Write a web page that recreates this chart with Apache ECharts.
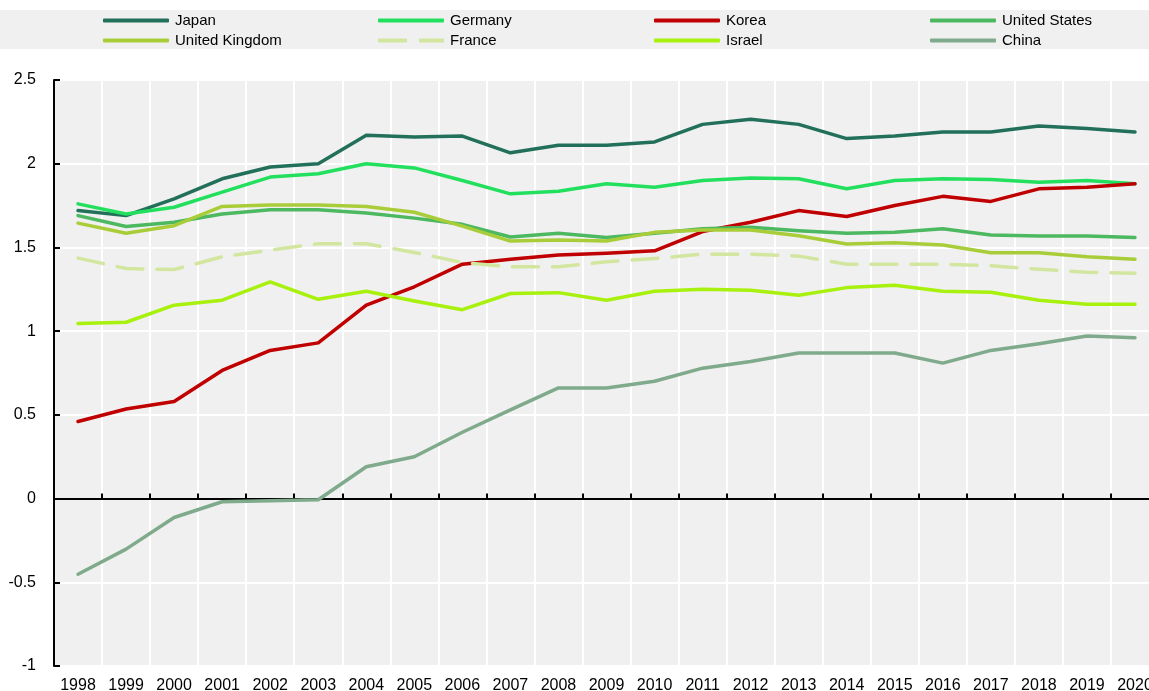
<!DOCTYPE html>
<html><head><meta charset="utf-8">
<script src="https://cdn.jsdelivr.net/npm/echarts@6/dist/echarts.min.js"></script>
<style>html,body{margin:0;padding:0;background:#fff;overflow:hidden}#c{width:1149px;height:691px}</style>
</head><body><div id="c"></div>
<script>
const years = ['1998','1999','2000','2001','2002','2003','2004','2005','2006','2007','2008','2009','2010','2011','2012','2013','2014','2015','2016','2017','2018','2019','2020'];
const yTicks = [-1,-0.5,0,0.5,1,1.5,2,2.5];
const japan = [1.72,1.69,1.79,1.91,1.98,2.00,2.17,2.16,2.165,2.065,2.11,2.11,2.13,2.235,2.265,2.235,2.15,2.165,2.19,2.19,2.225,2.21,2.19];
const germany = [1.76,1.70,1.74,1.83,1.92,1.94,2.00,1.975,1.90,1.82,1.835,1.88,1.86,1.90,1.915,1.91,1.85,1.90,1.91,1.905,1.89,1.90,1.88];
const korea = [0.46,0.535,0.58,0.765,0.885,0.93,1.155,1.265,1.40,1.43,1.455,1.465,1.48,1.595,1.65,1.72,1.685,1.75,1.805,1.775,1.85,1.86,1.88];
const unitedStates = [1.69,1.625,1.65,1.70,1.725,1.725,1.705,1.675,1.638,1.562,1.584,1.56,1.584,1.612,1.62,1.60,1.585,1.59,1.612,1.574,1.568,1.568,1.56];
const unitedKingdom = [1.645,1.585,1.63,1.745,1.753,1.753,1.745,1.71,1.627,1.538,1.544,1.538,1.59,1.604,1.604,1.57,1.52,1.528,1.514,1.468,1.468,1.445,1.43];
const france = [1.436,1.374,1.368,1.444,1.484,1.522,1.522,1.47,1.41,1.384,1.384,1.414,1.434,1.46,1.46,1.448,1.40,1.40,1.40,1.39,1.37,1.352,1.346];
const israel = [1.045,1.053,1.155,1.185,1.294,1.19,1.238,1.18,1.128,1.225,1.23,1.185,1.238,1.25,1.244,1.214,1.26,1.274,1.238,1.232,1.185,1.16,1.16];
const china = [-0.452,-0.302,-0.113,-0.019,-0.013,-0.007,0.19,0.25,0.396,0.53,0.661,0.661,0.701,0.779,0.819,0.869,0.869,0.869,0.809,0.885,0.925,0.971,0.961];

const FONT = '"Liberation Sans Narrow","Arial Narrow","Liberation Sans",Arial,sans-serif';
const seriesDefs = [
  ['Japan', japan, '#22705a', 'solid'],
  ['Germany', germany, '#22e05e', 'solid'],
  ['Korea', korea, '#c00000', 'solid'],
  ['United States', unitedStates, '#4cb860', 'solid'],
  ['United Kingdom', unitedKingdom, '#a9cd38', 'solid'],
  ['France', france, '#d3e6a0', [26,14]],
  ['Israel', israel, '#a8f00e', 'solid'],
  ['China', china, '#7faa8b', 'solid']
];
const series = seriesDefs.map(([name, data, color, type]) => ({
  name, type: 'line', data, symbol: 'none', color,
  lineStyle: {width: 3.5, color, type, cap: 'round', join: 'round'},
  emphasis: {disabled: true}
}));
const DASH_ICON = 'path://M0,0h29v4h-29z M41,0h25v4h-25z';
const legendCols = [['Japan','United Kingdom'],['Germany','France'],['Korea','Israel'],['United States','China']];
const legendLeft = [98, 373, 649, 925];
const legends = legendCols.map((d, i) => ({
  data: d.map(n => ({name: n, icon: n === 'France' ? DASH_ICON : 'roundRect'})),
  orient: 'vertical', left: legendLeft[i], top: 8,
  itemWidth: 66, itemHeight: 4, itemGap: 5,
  textStyle: {fontFamily: FONT, fontSize: 15, color: '#000', lineHeight: 15, padding: [0,0,0,1]},
  selectedMode: false
}));
const chart = echarts.init(document.getElementById('c'), null, {renderer: 'canvas', width: 1149, height: 691});
chart.setOption({
  animation: false,
  textStyle: {fontFamily: FONT},
  graphic: [{type: 'rect', shape: {x: 0, y: 10, width: 1149, height: 39}, style: {fill: '#f0f0f0'}, z: -10, silent: true}],
  legend: legends,
  grid: {left: 54, top: 80, width: 1105, height: 586, show: true, backgroundColor: '#f0f0f0', borderWidth: 0, containLabel: false, outerBoundsMode: 'none'},
  xAxis: [{
    type: 'category', data: years, boundaryGap: true,
    axisLine: {onZero: true, lineStyle: {color: '#000', width: 2}},
    axisTick: {show: true, inside: true, length: 5, lineStyle: {color: '#000', width: 2}},
    axisLabel: {show: false},
    splitLine: {show: true, lineStyle: {color: '#fff', width: 2}}
  }, {
    type: 'category', data: years, boundaryGap: true, position: 'bottom',
    axisLine: {show: false, onZero: false}, axisTick: {show: false},
    axisLabel: {show: true, color: '#000', fontFamily: FONT, fontSize: 16, margin: 12, interval: 0},
    splitLine: {show: false}
  }],
  yAxis: {
    type: 'value', min: yTicks[0], max: yTicks[yTicks.length-1], interval: 0.5,
    axisLine: {show: true, lineStyle: {color: '#000', width: 2}},
    axisTick: {show: true, inside: true, length: 6, lineStyle: {color: '#000', width: 2}},
    axisLabel: {color: '#000', fontFamily: FONT, fontSize: 16, margin: 18},
    splitLine: {show: true, lineStyle: {color: '#fff', width: 2}}
  },
  series
});
</script></body></html>
